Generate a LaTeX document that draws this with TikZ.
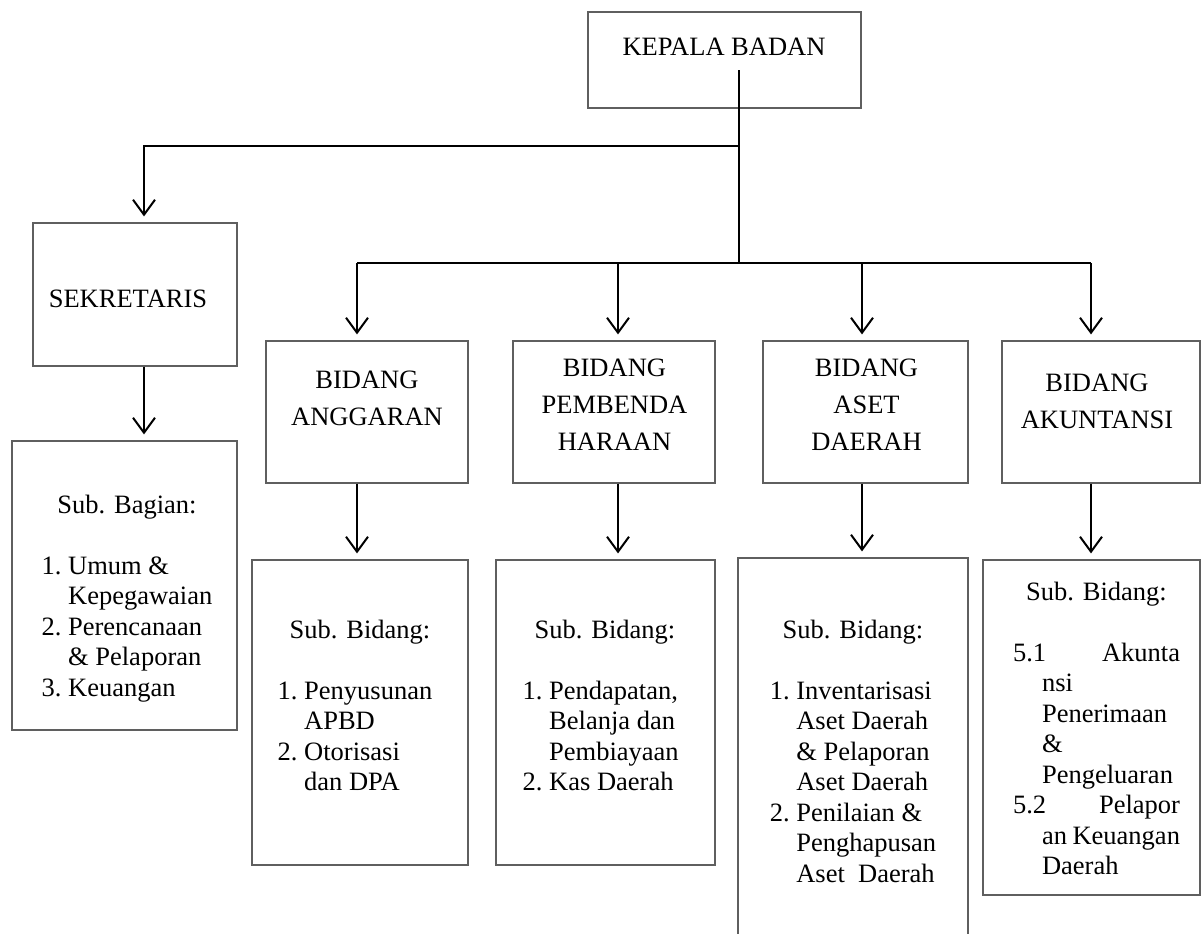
\documentclass[tikz,border=0pt]{standalone}
\usepackage{fontspec}
\setmainfont{Liberation Serif}
\usetikzlibrary{arrows.meta,positioning,calc}
\definecolor{garis}{RGB}{95,95,95}

\begin{document}
\begin{tikzpicture}[x=.5pt,y=-.5pt,
  kotak/.style={draw=garis,line width=.6pt,inner sep=0pt},
  judul/.style={font=\fontsize{13.25}{18.5}\selectfont,inner sep=0pt,anchor=base},
  isi/.style={font=\fontsize{13.25}{15.25}\selectfont,inner sep=0pt,anchor=base},
  hubung/.style={line width=1pt},
  panah/.style={line width=1pt,-{Straight Barb[length=7.5pt,width=11pt]},shorten >=3pt}]
\useasboundingbox (0,0) rectangle (1202,933);
\node[kotak,minimum width=136.5pt,minimum height=48pt] (kepala) at (724.5,60) {};
\node[kotak,minimum width=102pt,minimum height=71.5pt] (sek) at (135,294.5) {};
\node[kotak,minimum width=112.5pt,minimum height=144.5pt] (sekbag) at (124.5,585.5) {};
\node[kotak,minimum width=101pt,minimum height=71pt] (ang) at (367,412) {};
\node[kotak,minimum width=101pt,minimum height=71pt] (pemb) at (614,412) {};
\node[kotak,minimum width=102.5pt,minimum height=71pt] (aset) at (865.5,412) {};
\node[kotak,minimum width=99pt,minimum height=71pt] (akun) at (1101,412) {};
\node[kotak,minimum width=108pt,minimum height=152.5pt] (angsub) at (360,712.5) {};
\node[kotak,minimum width=109.5pt,minimum height=152.5pt] (pembsub) at (605.5,712.5) {};
\node[kotak,minimum width=115pt,minimum height=201pt] (asetsub) at (853,759) {};
\node[kotak,minimum width=108.5pt,minimum height=167.5pt] (akunsub) at (1091.5,727.5) {};
\node[isi] (kepalateks) at (724,55) {KEPALA BADAN};
\node[isi] (sekteks) at (128,307) {SEKRETARIS};
\node[judul] (angteks) at (367,388) {\begin{tabular}[t]{@{}c@{}}BIDANG\\ANGGARAN\end{tabular}};
\node[judul] (pembteks) at (614.5,376) {\begin{tabular}[t]{@{}c@{}}BIDANG\\PEMBENDA\\HARAAN\end{tabular}};
\node[judul] (asetteks) at (866.5,376) {\begin{tabular}[t]{@{}c@{}}BIDANG\\ASET\\DAERAH\end{tabular}};
\node[judul] (akunteks) at (1097,391) {\begin{tabular}[t]{@{}c@{}}BIDANG\\AKUNTANSI\end{tabular}};
\node[isi] (sekbagteks) at (127,513) {\begin{tabular}[t]{@{}r@{\ }l@{}}
  \multicolumn{2}{c}{Sub. Bagian:}\\[15.25pt]
  1. & Umum \&\\ & Kepegawaian\\ 2. & Perencanaan\\ & \& Pelaporan\\ 3. & Keuangan
  \end{tabular}};
\node[isi] (angsubteks) at (360,638) {\begin{tabular}[t]{@{}r@{\ }l@{}}
  \multicolumn{2}{c}{Sub. Bidang:}\\[15.25pt]
  1. & Penyusunan\\ & APBD\\ 2. & Otorisasi\\ & dan DPA
  \end{tabular}};
\node[isi] (pembsubteks) at (605,638) {\begin{tabular}[t]{@{}r@{\ }l@{}}
  \multicolumn{2}{c}{Sub. Bidang:}\\[15.25pt]
  1. & Pendapatan,\\ & Belanja dan\\ & Pembiayaan\\ 2. & Kas Daerah
  \end{tabular}};
\node[isi] (asetsubteks) at (853,638) {\begin{tabular}[t]{@{}r@{\ }l@{}}
  \multicolumn{2}{c}{Sub. Bidang:}\\[15.25pt]
  1. & Inventarisasi\\ & Aset Daerah\\ & \& Pelaporan\\ & Aset Daerah\\
  2. & Penilaian \&\\ & Penghapusan\\ & Aset\ \ Daerah
  \end{tabular}};
\node[isi] (akunsubteks) at (1096.5,600) {\begin{tabular}[t]{@{}p{14.5pt}@{}p{69pt}@{}}
  \multicolumn{2}{c}{Sub. Bidang:}\\[15.25pt]
  5.1 & \hfill Akunta\\ & nsi\\ & Penerimaan\\ & \&\\ & Pengeluaran\\
  5.2 & \hfill Pelapor\\ & an Keuangan\\ & Daerah
  \end{tabular}};
\coordinate (pangkal) at (739,70);
\coordinate (simpang) at (739,146);
\coordinate (bus) at (739,263);
\coordinate (kolsek) at ($(sek.north)+(9,0)$);
\coordinate (kolang) at ($(ang.north)+(-10,0)$);
\coordinate (kolpemb) at ($(pemb.north)+(4,0)$);
\coordinate (kolaset) at ($(aset.north)+(-3.5,0)$);
\coordinate (kolakun) at ($(akun.north)+(-10,0)$);
\draw[hubung] (pangkal) -- (bus);
\draw[hubung] (bus -| kolang) -- (bus -| kolakun);
\draw[panah] (simpang) -| (kolsek);
\draw[panah] (bus -| kolang) -- (kolang);
\draw[panah] (bus -| kolpemb) -- (kolpemb);
\draw[panah] (bus -| kolaset) -- (kolaset);
\draw[panah] (bus -| kolakun) -- (kolakun);
\draw[panah] (kolsek |- sek.south) -- (kolsek |- sekbag.north);
\draw[panah] (kolang |- ang.south) -- (kolang |- angsub.north);
\draw[panah] (kolpemb |- pemb.south) -- (kolpemb |- pembsub.north);
\draw[panah] (kolaset |- aset.south) -- (kolaset |- asetsub.north);
\draw[panah] (kolakun |- akun.south) -- (kolakun |- akunsub.north);
\end{tikzpicture}
\end{document}
